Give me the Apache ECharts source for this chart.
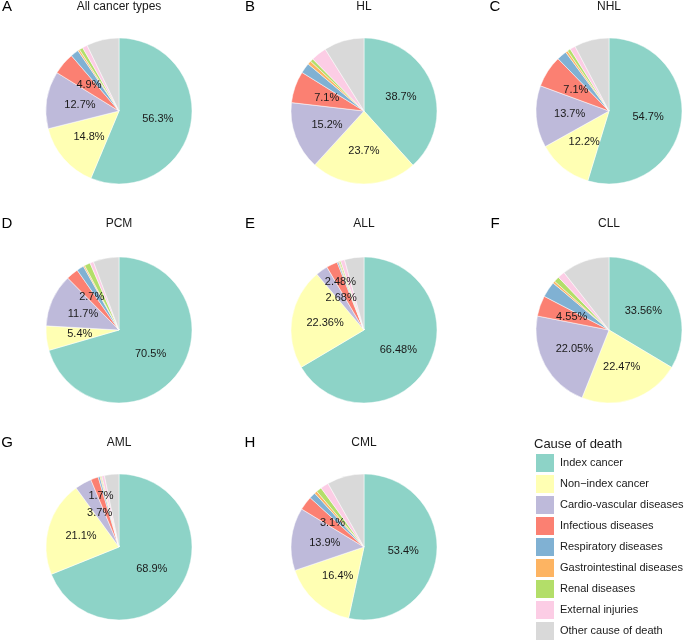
<!DOCTYPE html>
<html>
<head>
<meta charset="utf-8">
<script src="https://cdn.jsdelivr.net/npm/echarts@6/dist/echarts.min.js"></script>
<style>
html,body{margin:0;padding:0;background:#fff;}
#chart{width:685px;height:640px;}
</style>
</head>
<body>
<div id="chart"></div>
<script>
// Categories (cause of death)
var causes = ['Index cancer','Non\u2212index cancer','Cardio-vascular diseases','Infectious diseases','Respiratory diseases','Gastrointestinal diseases','Renal diseases','External injuries','Other cause of death'];
var colors = ['#8DD3C7','#FFFFB3','#BEBADA','#FB8072','#80B1D3','#FDB462','#B3DE69','#FCCDE5','#D9D9D9'];

// Panel letters and titles
var letters = ['A','B','C','D','E','F','G','H'];
var titles = ['All cancer types','HL','NHL','PCM','ALL','CLL','AML','CML'];

// Share of deaths (%) per cause, per panel (order = causes)
var allTypes = [56.3, 14.8, 12.7, 4.9, 1.8, 0.4, 0.8, 1.1, 7.2];
var hl       = [38.7, 23.7, 15.2, 7.1, 2.3, 0.8, 0.7, 3.5, 9.0];
var nhl      = [54.7, 12.2, 13.7, 7.1, 2.2, 0.5, 0.7, 1.2, 7.7];
var pcm      = [70.5, 5.4, 11.7, 2.7, 1.6, 0.3, 1.3, 0.8, 5.7];
var allLeuk  = [66.48, 22.36, 2.68, 2.48, 0.3, 0.2, 0.3, 0.9, 4.3];
var cll      = [33.56, 22.47, 22.05, 4.55, 3.5, 0.5, 1.2, 1.6, 10.57];
var aml      = [68.9, 21.1, 3.7, 1.7, 0.4, 0.2, 0.2, 0.6, 3.2];
var cml      = [53.4, 16.4, 13.9, 3.1, 1.4, 0.6, 1.2, 1.8, 8.2];
var panels = [allTypes, hl, nhl, pcm, allLeuk, cll, aml, cml];

// Number of labelled slices per panel
var labelledCount = 4;

// Layout (style only)
var colX = [119, 364, 609];
var rowY = [111, 330, 547];
var titleY = [7, 224, 443];
var letterX = [7, 250, 495];
var radius = 73;
var labelPad = 2.5;
var font = '"Liberation Sans", Arial, Helvetica, sans-serif';

var chart = echarts.init(document.getElementById('chart'), null, {renderer:'canvas'});

var centers = [];
var placed = {};
function overlaps(r, list) {
  for (var i = 0; i < list.length; i++) {
    var o = list[i];
    if (r.x < o.x + o.width && r.x + r.width > o.x && r.y < o.y + o.height && r.y + r.height > o.y) return true;
  }
  return false;
}
// Push a label outward along its radius while it collides with an earlier label
function layoutLabel(p) {
  var si = p.seriesIndex;
  if (p.dataIndex === 0 || !placed[si]) placed[si] = [];
  var rect = p.labelRect;
  var c = centers[si];
  var dx = rect.x + rect.width / 2 - c[0];
  var dy = rect.y + rect.height / 2 - c[1];
  var k = 1;
  var test = {x: rect.x, y: rect.y - labelPad, width: rect.width, height: rect.height + 2 * labelPad};
  while (overlaps(test, placed[si]) && k < 1.9) {
    k += 0.04;
    test.x = c[0] + dx * k - rect.width / 2;
    test.y = c[1] + dy * k - rect.height / 2 - labelPad;
  }
  placed[si].push(test);
  return {x: c[0] + dx * k, y: c[1] + dy * k, align: 'center', verticalAlign: 'middle'};
}

var series = [];
var graphics = [];
panels.forEach(function (vals, i) {
  var c = i % 3, r = Math.floor(i / 3);
  centers.push([colX[c], rowY[r]]);
  series.push({
    type: 'pie',
    center: [colX[c], rowY[r]],
    radius: [0, radius],
    startAngle: 90,
    clockwise: true,
    animation: false,
    silent: true,
    avoidLabelOverlap: false,
    itemStyle: {borderColor: '#ffffff', borderWidth: 0.5},
    label: {
      show: true,
      position: 'inside',
      color: '#1a1a1a',
      fontFamily: font,
      fontSize: 11,
      formatter: function (p) { return p.value + '%'; }
    },
    labelLayout: layoutLabel,
    labelLine: {show: false},
    emphasis: {disabled: true},
    data: causes.map(function (name, k) {
      return {name: name, value: vals[k], itemStyle: {color: colors[k]}, label: {show: k < labelledCount}};
    })
  });
  graphics.push({
    type: 'text', x: colX[c], y: titleY[r],
    style: {text: titles[i], font: '12px ' + font, fill: '#1a1a1a', textAlign: 'center', textVerticalAlign: 'middle'}
  });
  graphics.push({
    type: 'text', x: letterX[c], y: titleY[r],
    style: {text: letters[i], font: '15px ' + font, fill: '#000000', textAlign: 'center', textVerticalAlign: 'middle'}
  });
});

graphics.push({
  type: 'text', x: 534, y: 444,
  style: {text: 'Cause of death', font: '13px ' + font, fill: '#1a1a1a', textAlign: 'left', textVerticalAlign: 'middle'}
});

chart.setOption({
  backgroundColor: '#ffffff',
  animation: false,
  legend: {
    orient: 'vertical',
    left: 534,
    top: 452,
    height: 200,
    padding: 0,
    itemWidth: 20,
    itemHeight: 20,
    itemGap: -1,
    icon: 'rect',
    selectedMode: false,
    data: causes,
    textStyle: {fontFamily: font, fontSize: 11, color: '#1a1a1a'}
  },
  graphic: graphics,
  series: series
});
</script>
</body>
</html>
